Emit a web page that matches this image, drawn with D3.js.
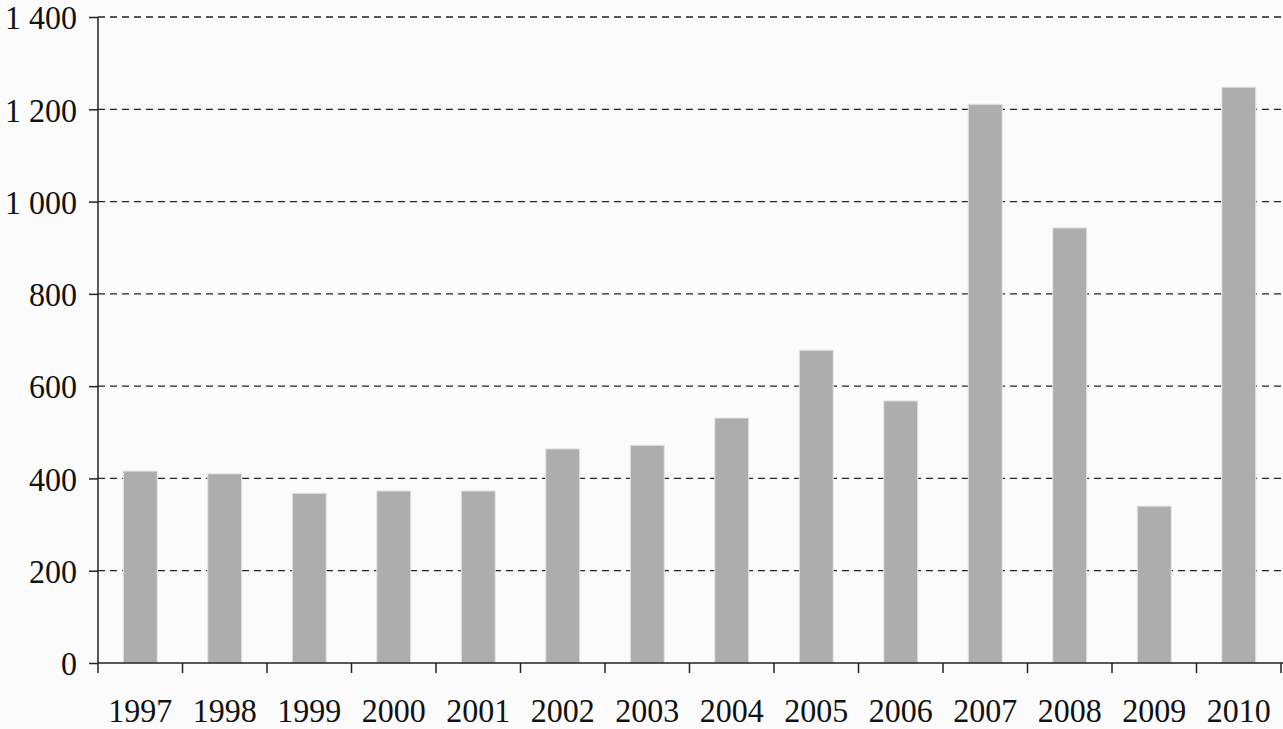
<!DOCTYPE html>
<html><head><meta charset="utf-8">
<script src="https://cdn.jsdelivr.net/npm/d3@7"></script>
<style>html,body{margin:0;padding:0;background:#fbfbfb;}svg{display:block;}</style>
</head><body>
<script>
const years = ["1997","1998","1999","2000","2001","2002","2003","2004","2005","2006","2007","2008","2009","2010"];
const values = [416, 410, 368, 373, 373, 464, 472, 531, 678, 568, 1211, 943, 340, 1248];
const yTicks = [0, 200, 400, 600, 800, 1000, 1200, 1400];

const W = 1283, H = 729;
const m = {left: 98, right: 1281, top: 17, bottom: 663};
const svg = d3.select("body").append("svg").attr("width", W).attr("height", H);
svg.append("rect").attr("width", W).attr("height", H).attr("fill", "#fbfbfb");

const xb = d3.scaleBand().domain(years).range([m.left, m.right]);
const y = d3.scaleLinear().domain([0, 1400]).range([m.bottom, m.top]);
const fmt = v => d3.format(",")(v).replace(/,/g, " ");
const SY = 1.08;

// gridlines
svg.append("g").selectAll("line").data(yTicks.filter(d => d > 0)).join("line")
  .attr("x1", m.left).attr("x2", W).attr("y1", d => y(d)).attr("y2", d => y(d))
  .attr("stroke", "#222").attr("stroke-width", 1.3).attr("stroke-dasharray", "7,5");

// bars
svg.append("g").selectAll("rect").data(values).join("rect")
  .attr("x", (d, i) => xb(years[i]) + xb.bandwidth() / 2 - 17)
  .attr("width", 34)
  .attr("y", d => y(d)).attr("height", d => y(0) - y(d))
  .attr("fill", "#adadad").attr("stroke", "#e6e6e6").attr("stroke-width", 1);

// y axis
const ya = svg.append("g").attr("transform", `translate(${m.left},0)`)
  .call(d3.axisLeft(y).tickValues(yTicks).tickFormat(fmt).tickSize(9).tickPadding(12));
ya.select(".domain").attr("stroke", "#222").attr("stroke-width", 1.5).attr("d", `M0,${m.top}V${m.bottom}`);
ya.selectAll(".tick line").attr("stroke", "#222").attr("stroke-width", 1.5);
ya.selectAll("text").attr("font-family", "Liberation Serif, serif").attr("font-size", 32).attr("fill", "#111")
  .attr("dy", "0.34em").attr("transform", `scale(1,${SY})`);

// x axis
const xa = svg.append("g").attr("transform", `translate(0,${m.bottom})`)
  .call(d3.axisBottom(xb).tickSize(0).tickPadding(0));
xa.select(".domain").attr("stroke", "#222").attr("stroke-width", 1.5).attr("d", `M${m.left},0H${m.right + 2}`);
xa.selectAll("text").attr("font-family", "Liberation Serif, serif").attr("font-size", 32).attr("fill", "#111")
  .attr("y", 59 / SY).attr("dy", 0).attr("transform", `scale(1,${SY})`);
// category separator ticks
const bounds = years.map(d => xb(d)).concat([m.right]);
xa.append("g").selectAll("line").data(bounds).join("line")
  .attr("x1", d => d).attr("x2", d => d).attr("y1", 0).attr("y2", 10)
  .attr("stroke", "#222").attr("stroke-width", 1.5);
</script>
</body></html>
